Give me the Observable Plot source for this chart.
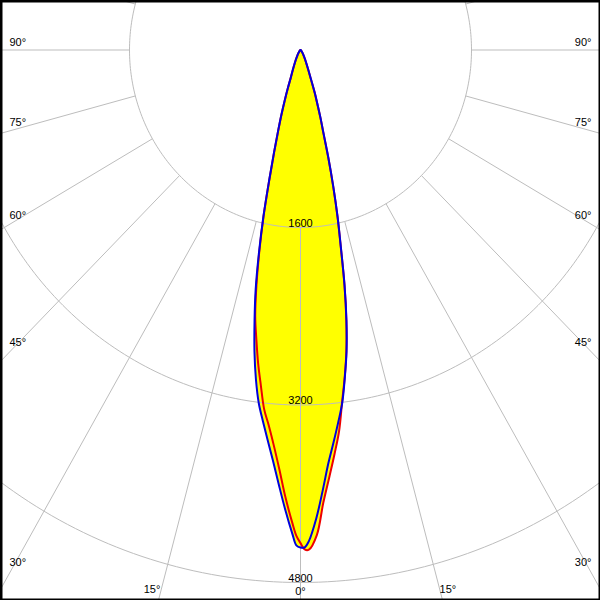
<!DOCTYPE html>
<html>
<head>
<meta charset="utf-8">
<script src="https://cdn.jsdelivr.net/npm/d3@7"></script>
<script src="https://cdn.jsdelivr.net/npm/@observablehq/plot@0.6"></script>
<style>
  html, body { margin: 0; padding: 0; background: #fff; overflow: hidden; }
  #chart svg { display: block; }
</style>
</head>
<body>
<div id="chart"></div>
<script>
// Polar angles (degrees from nadir) at which intensities were read
const gammas = [0,0.5,1,2,3,4,5,6,7,8,9,10,11,12,13,14,15,16,17,18,19,20,22,24,26,28,30,35,40,50,60,70,80,90];
// Blue plane (C0 / C180), left and right halves, cd
const blueLeft  = [4485,4465,4362,4140,3915,3707,3529,3364,3206,2997,2753,2476,2198,1870,1545,1215,960,765,615,480,365,270,190,138,105,80,60,35,20,10,5,3,1,0];
const blueRight = [4485,4484,4430,4225,3975,3735,3550,3375,3205,2980,2753,2476,2160,1815,1540,1265,1010,780,640,510,415,310,200,142,106,80,60,35,20,10,5,3,1,0];
// Red plane (C90 / C270)
const redLeft   = [4445,4380,4270,4035,3785,3575,3400,3255,3045,2850,2640,2440,2160,1850,1535,1205,950,757,608,473,358,265,187,136,104,79,59,35,20,10,5,3,1,0];
const redRight  = [4445,4502,4505,4375,4085,3860,3655,3455,3195,2975,2745,2470,2155,1810,1535,1260,1005,775,635,505,410,305,197,140,105,79,59,35,20,10,5,3,1,0];
// Grid
const rings = [1600, 3200, 4800];
const spokeAngles = [-180,-165,-150,-135,-120,-105,-90,-75,-60,-45,-30,-15,0,15,30,45,60,75,90,105,120,135,150,165,180];
const sideLabelAngles = [90, 75, 60, 45, 30];
const bottomLabelAngles = [-15, 0, 15];

// scale set-up (units per pixel differ slightly in x and y, as in the reference)
const W = 600, H = 600;
const PX = 1600 / 171, PY = 1600 / 177.5;
const cx = 300, cy = 49.5;
const xDomain = [-cx * PX, (W - cx) * PX];
const yDomain = [-cy * PY, (H - cy) * PY];
const rad = d => d * Math.PI / 180;

function polarCurve(left, right, name) {
  const pts = [];
  for (let i = gammas.length - 1; i >= 0; i--) {
    const g = -gammas[i], I = left[i];
    pts.push({name, x: I * Math.sin(rad(g)), y: I * Math.cos(rad(g))});
  }
  for (let i = 1; i < gammas.length; i++) {
    const g = gammas[i], I = right[i];
    pts.push({name, x: I * Math.sin(rad(g)), y: I * Math.cos(rad(g))});
  }
  return pts;
}
const blue = polarCurve(blueLeft, blueRight, "blue");
const red = polarCurve(redLeft, redRight, "red");

const ringPts = rings.flatMap(r => d3.range(0, 361, 1).map(a => ({r, x: r * Math.sin(rad(a)), y: r * Math.cos(rad(a))})));
const spokes = spokeAngles.map(a => ({
  a,
  x1: rings[0] * Math.sin(rad(a)), y1: rings[0] * Math.cos(rad(a)),
  x2: 9000 * Math.sin(rad(a)), y2: 9000 * Math.cos(rad(a))
}));

// side labels: anchored where each spoke passes 11px from the side edge
const edgeX = (cx - 11) * PX;
const sideLabels = sideLabelAngles.flatMap(a => {
  const yy = edgeX * Math.cos(rad(a)) / Math.sin(rad(a));
  return [
    {text: a + "°", x: -edgeX, y: yy, anchor: "start"},
    {text: a + "°", x: edgeX, y: yy, anchor: "end"}
  ];
});
const bottomY = yDomain[1];
const bottomLabels = bottomLabelAngles.map(a => ({
  text: Math.abs(a) + "°",
  x: bottomY * Math.tan(rad(a)),
  y: bottomY,
  anchor: a < 0 ? "end" : a > 0 ? "start" : "middle"
}));
const ringLabels = rings.map(r => ({text: String(r), x: 0, y: r}));

const grid = "#bdbdbd";
const chart = Plot.plot({
  width: W, height: H, margin: 0,
  x: {domain: xDomain, axis: null},
  y: {domain: yDomain, range: [0, H], axis: null},
  style: {fontFamily: "'Liberation Sans', Arial, sans-serif", fontSize: "11px", background: "#fff"},
  marks: [
    Plot.line(blue, {x: "x", y: "y", fill: "#ffff00", stroke: "none", curve: "catmull-rom"}),
    Plot.line(red, {x: "x", y: "y", fill: "#ffff00", stroke: "none", curve: "catmull-rom"}),
    Plot.line(ringPts, {x: "x", y: "y", z: "r", stroke: grid, strokeWidth: 1, clip: true}),
    Plot.link(spokes, {x1: "x1", y1: "y1", x2: "x2", y2: "y2", stroke: grid, strokeWidth: 1, clip: true}),
    Plot.line(red, {x: "x", y: "y", stroke: "#ee0000", strokeWidth: 2, curve: "catmull-rom"}),
    Plot.line(blue, {x: "x", y: "y", stroke: "#0000dd", strokeWidth: 2, curve: "catmull-rom"}),
    Plot.text(ringLabels, {x: "x", y: "y", text: "text", dy: -4.5, fill: "black"}),
    Plot.text(sideLabels.filter(d => d.anchor === "start"), {x: "x", y: "y", text: "text", textAnchor: "start", dx: -2, dy: -7.5, fill: "black"}),
    Plot.text(sideLabels.filter(d => d.anchor === "end"), {x: "x", y: "y", text: "text", textAnchor: "end", dx: 2, dy: -7.5, fill: "black"}),
    Plot.text(bottomLabels.filter(d => d.anchor === "end"), {x: "x", y: "y", text: "text", textAnchor: "end", dx: 2, dy: -11, fill: "black"}),
    Plot.text(bottomLabels.filter(d => d.anchor === "middle"), {x: "x", y: "y", text: "text", textAnchor: "middle", dy: -9, fill: "black"}),
    Plot.text(bottomLabels.filter(d => d.anchor === "start"), {x: "x", y: "y", text: "text", textAnchor: "start", dx: -3, dy: -11, fill: "black"}),
    Plot.frame({stroke: "black", strokeWidth: 4})
  ]
});
document.getElementById("chart").appendChild(chart);
</script>
</body>
</html>
